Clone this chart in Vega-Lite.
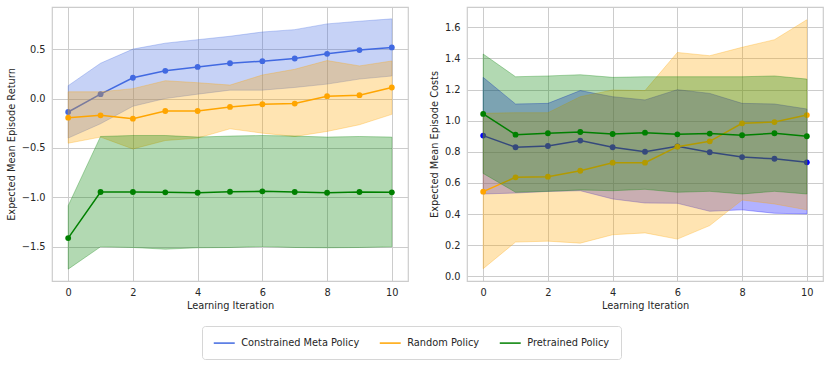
{
  "$schema": "https://vega.github.io/schema/vega-lite/v6.json",
  "padding": {"left": 6, "top": 6, "right": 2, "bottom": 2},
  "background": "white",
  "spacing": 20,
  "datasets": {
    "runs": [
      {"it": 0, "policy": "Constrained Meta Policy", "ret": -0.136, "retLo": -0.40, "retHi": 0.13, "cost": 0.904, "costLo": 0.529, "costHi": 1.278},
      {"it": 1, "policy": "Constrained Meta Policy", "ret": 0.044, "retLo": -0.255, "retHi": 0.357, "cost": 0.829, "costLo": 0.535, "costHi": 1.107},
      {"it": 2, "policy": "Constrained Meta Policy", "ret": 0.21, "retLo": -0.078, "retHi": 0.50, "cost": 0.837, "costLo": 0.545, "costHi": 1.111},
      {"it": 3, "policy": "Constrained Meta Policy", "ret": 0.28, "retLo": 0.0, "retHi": 0.56, "cost": 0.872, "costLo": 0.55, "costHi": 1.193},
      {"it": 4, "policy": "Constrained Meta Policy", "ret": 0.32, "retLo": 0.044, "retHi": 0.595, "cost": 0.829, "costLo": 0.497, "costHi": 1.154},
      {"it": 5, "policy": "Constrained Meta Policy", "ret": 0.357, "retLo": 0.085, "retHi": 0.63, "cost": 0.80, "costLo": 0.471, "costHi": 1.133},
      {"it": 6, "policy": "Constrained Meta Policy", "ret": 0.378, "retLo": 0.085, "retHi": 0.673, "cost": 0.835, "costLo": 0.469, "costHi": 1.199},
      {"it": 7, "policy": "Constrained Meta Policy", "ret": 0.405, "retLo": 0.112, "retHi": 0.697, "cost": 0.797, "costLo": 0.418, "costHi": 1.175},
      {"it": 8, "policy": "Constrained Meta Policy", "ret": 0.452, "retLo": 0.146, "retHi": 0.755, "cost": 0.766, "costLo": 0.427, "costHi": 1.111},
      {"it": 9, "policy": "Constrained Meta Policy", "ret": 0.49, "retLo": 0.197, "retHi": 0.782, "cost": 0.755, "costLo": 0.405, "costHi": 1.107},
      {"it": 10, "policy": "Constrained Meta Policy", "ret": 0.517, "retLo": 0.228, "retHi": 0.806, "cost": 0.732, "costLo": 0.401, "costHi": 1.075},
      {"it": 0, "policy": "Random Policy", "ret": -0.194, "retLo": -0.452, "retHi": 0.068, "cost": 0.544, "costLo": 0.049, "costHi": 1.047},
      {"it": 1, "policy": "Random Policy", "ret": -0.17, "retLo": -0.39, "retHi": 0.068, "cost": 0.636, "costLo": 0.22, "costHi": 1.051},
      {"it": 2, "policy": "Random Policy", "ret": -0.204, "retLo": -0.51, "retHi": 0.10, "cost": 0.64, "costLo": 0.226, "costHi": 1.051},
      {"it": 3, "policy": "Random Policy", "ret": -0.126, "retLo": -0.425, "retHi": 0.18, "cost": 0.678, "costLo": 0.213, "costHi": 1.154},
      {"it": 4, "policy": "Random Policy", "ret": -0.126, "retLo": -0.40, "retHi": 0.16, "cost": 0.73, "costLo": 0.267, "costHi": 1.197},
      {"it": 5, "policy": "Random Policy", "ret": -0.085, "retLo": -0.306, "retHi": 0.136, "cost": 0.73, "costLo": 0.279, "costHi": 1.193},
      {"it": 6, "policy": "Random Policy", "ret": -0.058, "retLo": -0.35, "retHi": 0.238, "cost": 0.833, "costLo": 0.239, "costHi": 1.438},
      {"it": 7, "policy": "Random Policy", "ret": -0.051, "retLo": -0.384, "retHi": 0.296, "cost": 0.867, "costLo": 0.326, "costHi": 1.417},
      {"it": 8, "policy": "Random Policy", "ret": 0.024, "retLo": -0.333, "retHi": 0.384, "cost": 0.983, "costLo": 0.49, "costHi": 1.471},
      {"it": 9, "policy": "Random Policy", "ret": 0.034, "retLo": -0.265, "retHi": 0.33, "cost": 0.991, "costLo": 0.465, "costHi": 1.52},
      {"it": 10, "policy": "Random Policy", "ret": 0.112, "retLo": -0.16, "retHi": 0.38, "cost": 1.036, "costLo": 0.427, "costHi": 1.648},
      {"it": 0, "policy": "Pretrained Policy", "ret": -1.412, "retLo": -1.726, "retHi": -1.084, "cost": 1.043, "costLo": 0.661, "costHi": 1.428},
      {"it": 1, "policy": "Pretrained Policy", "ret": -0.946, "retLo": -1.5, "retHi": -0.384, "cost": 0.910, "costLo": 0.54, "costHi": 1.282},
      {"it": 2, "policy": "Pretrained Policy", "ret": -0.946, "retLo": -1.507, "retHi": -0.374, "cost": 0.919, "costLo": 0.546, "costHi": 1.287},
      {"it": 3, "policy": "Pretrained Policy", "ret": -0.949, "retLo": -1.524, "retHi": -0.374, "cost": 0.927, "costLo": 0.555, "costHi": 1.295},
      {"it": 4, "policy": "Pretrained Policy", "ret": -0.953, "retLo": -1.51, "retHi": -0.39, "cost": 0.914, "costLo": 0.55, "costHi": 1.278},
      {"it": 5, "policy": "Pretrained Policy", "ret": -0.943, "retLo": -1.507, "retHi": -0.38, "cost": 0.923, "costLo": 0.559, "costHi": 1.282},
      {"it": 6, "policy": "Pretrained Policy", "ret": -0.939, "retLo": -1.497, "retHi": -0.374, "cost": 0.912, "costLo": 0.54, "costHi": 1.282},
      {"it": 7, "policy": "Pretrained Policy", "ret": -0.946, "retLo": -1.507, "retHi": -0.38, "cost": 0.917, "costLo": 0.546, "costHi": 1.282},
      {"it": 8, "policy": "Pretrained Policy", "ret": -0.953, "retLo": -1.51, "retHi": -0.39, "cost": 0.906, "costLo": 0.529, "costHi": 1.282},
      {"it": 9, "policy": "Pretrained Policy", "ret": -0.946, "retLo": -1.507, "retHi": -0.384, "cost": 0.919, "costLo": 0.546, "costHi": 1.287},
      {"it": 10, "policy": "Pretrained Policy", "ret": -0.949, "retLo": -1.5, "retHi": -0.39, "cost": 0.90, "costLo": 0.529, "costHi": 1.267}
    ]
  },
  "data": {"name": "runs"},
  "hconcat": [
    {
      "width": 356,
      "height": 274,
      "encoding": {
        "x": {"field": "it", "type": "quantitative", "title": "Learning Iteration", "scale": {"domain": [-0.5, 10.5], "nice": false, "zero": false}, "axis": {"values": [0, 2, 4, 6, 8, 10], "format": "d", "labelOverlap": false}}
      },
      "layer": [
        {
          "transform": [{"filter": "datum.policy === 'Constrained Meta Policy'"}],
          "mark": {"type": "area", "fill": "#4169e1", "fillOpacity": 0.3, "stroke": "#4169e1", "strokeOpacity": 0.3, "strokeWidth": 1},
          "encoding": {
            "y": {"field": "retLo", "type": "quantitative", "title": "Expected Mean Episode Return", "scale": {"domain": [-1.846, 0.926], "nice": false, "zero": false}, "axis": {"values": [-1.5, -1.0, -0.5, 0, 0.5], "format": ".1f", "labelOverlap": false, "minExtent": 0}},
            "y2": {"field": "retHi"}
          }
        },
        {
          "transform": [{"filter": "datum.policy === 'Constrained Meta Policy'"}],
          "mark": {"type": "line", "strokeWidth": 1.5, "point": {"filled": true, "size": 34, "opacity": 1}},
          "encoding": {
            "y": {"field": "ret", "type": "quantitative", "scale": {"domain": [-1.846, 0.926], "nice": false, "zero": false}},
            "color": {"field": "policy", "type": "nominal", "scale": {"domain": ["Constrained Meta Policy", "Random Policy", "Pretrained Policy"], "range": ["#4169e1", "#ffa500", "#008000"]}, "legend": {"title": null, "orient": "none", "legendX": 150, "legendY": 319, "direction": "horizontal", "symbolType": "M-2,0H2", "symbolSize": 110, "symbolOffset": 5.25, "symbolStrokeWidth": 1.5, "labelOffset": 11, "columnPadding": 16, "padding": 11, "strokeColor": "#d6d6d6", "fillColor": "white", "cornerRadius": 3}}
          }
        },
        {
          "transform": [{"filter": "datum.policy === 'Random Policy'"}],
          "mark": {"type": "area", "fill": "#ffa500", "fillOpacity": 0.3, "stroke": "#ffa500", "strokeOpacity": 0.3, "strokeWidth": 1},
          "encoding": {
            "y": {"field": "retLo", "type": "quantitative", "scale": {"domain": [-1.846, 0.926], "nice": false, "zero": false}},
            "y2": {"field": "retHi"}
          }
        },
        {
          "transform": [{"filter": "datum.policy === 'Random Policy'"}],
          "mark": {"type": "line", "strokeWidth": 1.5, "point": {"filled": true, "size": 34, "opacity": 1}},
          "encoding": {
            "y": {"field": "ret", "type": "quantitative", "scale": {"domain": [-1.846, 0.926], "nice": false, "zero": false}},
            "color": {"field": "policy", "type": "nominal"}
          }
        },
        {
          "transform": [{"filter": "datum.policy === 'Pretrained Policy'"}],
          "mark": {"type": "area", "fill": "#008000", "fillOpacity": 0.3, "stroke": "#008000", "strokeOpacity": 0.3, "strokeWidth": 1},
          "encoding": {
            "y": {"field": "retLo", "type": "quantitative", "scale": {"domain": [-1.846, 0.926], "nice": false, "zero": false}},
            "y2": {"field": "retHi"}
          }
        },
        {
          "transform": [{"filter": "datum.policy === 'Pretrained Policy'"}],
          "mark": {"type": "line", "strokeWidth": 1.5, "point": {"filled": true, "size": 34, "opacity": 1}},
          "encoding": {
            "y": {"field": "ret", "type": "quantitative", "scale": {"domain": [-1.846, 0.926], "nice": false, "zero": false}},
            "color": {"field": "policy", "type": "nominal"}
          }
        }
      ]
    },
    {
      "width": 356,
      "height": 274,
      "encoding": {
        "x": {"field": "it", "type": "quantitative", "title": "Learning Iteration", "scale": {"domain": [-0.5, 10.5], "nice": false, "zero": false}, "axis": {"values": [0, 2, 4, 6, 8, 10], "format": "d", "labelOverlap": false}}
      },
      "layer": [
        {
          "transform": [{"filter": "datum.policy === 'Constrained Meta Policy'"}],
          "mark": {"type": "area", "fill": "#0000ff", "fillOpacity": 0.3, "stroke": "#0000ff", "strokeOpacity": 0.3, "strokeWidth": 1},
          "encoding": {
            "y": {"field": "costLo", "type": "quantitative", "title": "Expected Mean Episode Costs", "scale": {"domain": [-0.03, 1.73], "nice": false, "zero": false}, "axis": {"values": [0, 0.2, 0.4, 0.6, 0.8, 1.0, 1.2, 1.4, 1.6], "tickCount": 9, "format": ".1f", "labelOverlap": false, "labelSeparation": 0, "minExtent": 0}},
            "y2": {"field": "costHi"}
          }
        },
        {
          "transform": [{"filter": "datum.policy === 'Constrained Meta Policy'"}],
          "mark": {"type": "line", "color": "#0000ff", "strokeWidth": 1.5, "point": {"filled": true, "size": 34, "opacity": 1, "color": "#0000ff"}},
          "encoding": {
            "y": {"field": "cost", "type": "quantitative", "title": "Expected Mean Episode Costs", "scale": {"domain": [-0.03, 1.73], "nice": false, "zero": false}, "axis": {"values": [0, 0.2, 0.4, 0.6, 0.8, 1.0, 1.2, 1.4, 1.6], "tickCount": 9, "format": ".1f", "labelOverlap": false, "labelSeparation": 0, "minExtent": 0}}
          }
        },
        {
          "transform": [{"filter": "datum.policy === 'Random Policy'"}],
          "mark": {"type": "area", "fill": "#ffa500", "fillOpacity": 0.3, "stroke": "#ffa500", "strokeOpacity": 0.3, "strokeWidth": 1},
          "encoding": {
            "y": {"field": "costLo", "type": "quantitative", "title": "Expected Mean Episode Costs", "scale": {"domain": [-0.03, 1.73], "nice": false, "zero": false}, "axis": {"values": [0, 0.2, 0.4, 0.6, 0.8, 1.0, 1.2, 1.4, 1.6], "tickCount": 9, "format": ".1f", "labelOverlap": false, "labelSeparation": 0, "minExtent": 0}},
            "y2": {"field": "costHi"}
          }
        },
        {
          "transform": [{"filter": "datum.policy === 'Random Policy'"}],
          "mark": {"type": "line", "color": "#ffa500", "strokeWidth": 1.5, "point": {"filled": true, "size": 34, "opacity": 1, "color": "#ffa500"}},
          "encoding": {
            "y": {"field": "cost", "type": "quantitative", "title": "Expected Mean Episode Costs", "scale": {"domain": [-0.03, 1.73], "nice": false, "zero": false}, "axis": {"values": [0, 0.2, 0.4, 0.6, 0.8, 1.0, 1.2, 1.4, 1.6], "tickCount": 9, "format": ".1f", "labelOverlap": false, "labelSeparation": 0, "minExtent": 0}}
          }
        },
        {
          "transform": [{"filter": "datum.policy === 'Pretrained Policy'"}],
          "mark": {"type": "area", "fill": "#008000", "fillOpacity": 0.3, "stroke": "#008000", "strokeOpacity": 0.3, "strokeWidth": 1},
          "encoding": {
            "y": {"field": "costLo", "type": "quantitative", "title": "Expected Mean Episode Costs", "scale": {"domain": [-0.03, 1.73], "nice": false, "zero": false}, "axis": {"values": [0, 0.2, 0.4, 0.6, 0.8, 1.0, 1.2, 1.4, 1.6], "tickCount": 9, "format": ".1f", "labelOverlap": false, "labelSeparation": 0, "minExtent": 0}},
            "y2": {"field": "costHi"}
          }
        },
        {
          "transform": [{"filter": "datum.policy === 'Pretrained Policy'"}],
          "mark": {"type": "line", "color": "#008000", "strokeWidth": 1.5, "point": {"filled": true, "size": 34, "opacity": 1, "color": "#008000"}},
          "encoding": {
            "y": {"field": "cost", "type": "quantitative", "title": "Expected Mean Episode Costs", "scale": {"domain": [-0.03, 1.73], "nice": false, "zero": false}, "axis": {"values": [0, 0.2, 0.4, 0.6, 0.8, 1.0, 1.2, 1.4, 1.6], "tickCount": 9, "format": ".1f", "labelOverlap": false, "labelSeparation": 0, "minExtent": 0}}
          }
        }
      ]
    }
  ],
  "config": {
    "font": "DejaVu Sans",
    "view": {"stroke": "#cccccc", "strokeWidth": 1.2},
    "axis": {
      "labelFont": "DejaVu Sans", "labelFontSize": 9.8, "labelColor": "#262626",
      "titleFont": "DejaVu Sans", "titleFontSize": 9.8, "titleColor": "#262626", "titleFontWeight": "normal",
      "grid": true, "gridColor": "#cccccc", "gridWidth": 1,
      "domain": false, "ticks": false, "labelOverlap": false
    },
    "axisX": {"labelPadding": 6, "titlePadding": 4},
    "axisY": {"labelPadding": 7, "titlePadding": 4.5, "minExtent": 0},
    "legend": {"labelFont": "DejaVu Sans", "labelFontSize": 9.8, "labelColor": "#262626"}
  }
}
